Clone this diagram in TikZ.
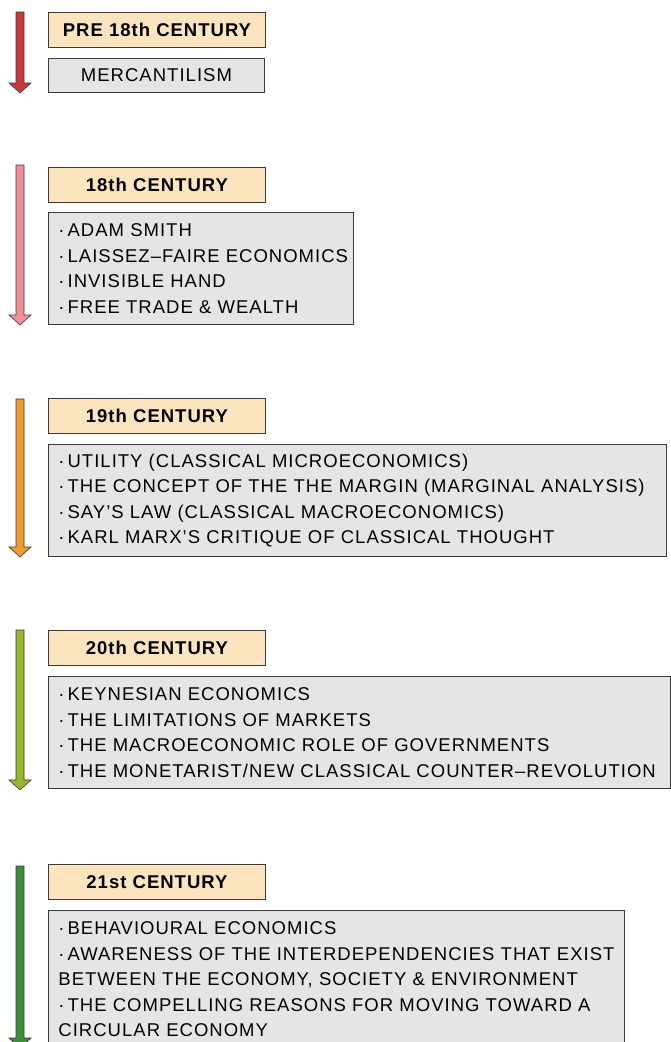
\documentclass[tikz,border=0pt]{standalone}
\usepackage{fontspec}
\setmainfont{Liberation Sans}[LetterSpace=5.5]
\usepackage{tikz}

\definecolor{headfill}{HTML}{FCE4BE}
\definecolor{boxfill}{HTML}{E5E5E5}
\definecolor{edge}{HTML}{3A3A3A}
\definecolor{arrA}{HTML}{C63A3B}
\definecolor{arrB}{HTML}{F08E98}
\definecolor{arrC}{HTML}{EE9C30}
\definecolor{arrD}{HTML}{9AB62C}
\definecolor{arrE}{HTML}{3F8C3B}

\newcommand{\bul}{\mbox{\textperiodcentered\hspace{3pt}}}
\newcommand{\nohyph}{\hyphenpenalty=10000 \exhyphenpenalty=10000\relax}

\begin{document}
\begin{tikzpicture}[x=1pt, y=-1pt,
	era/.style={draw=edge, line width=0.9pt, fill=headfill, anchor=north west, minimum width=217pt, minimum height=35pt, inner sep=0pt, font=\fontsize{18.5}{25.5}\selectfont\bfseries},
	info/.style={draw=edge, line width=0.9pt, fill=boxfill, anchor=north west, inner xsep=10pt, inner ysep=0pt, align=left, font=\fontsize{18.5}{25.5}\selectfont\nohyph}]
		\useasboundingbox (0,0) rectangle (671,1042);
		\begin{scope}
			\clip (0,0) rectangle (671,1042);

			% arrows
			\foreach \col/\top/\bot in {arrA/12/93, arrB/165/325, arrC/399/557, arrD/630/790, arrE/866/1048}
				\filldraw[fill=\col, draw=edge, line width=0.6pt] (16,\top) -- (24,\top) -- (24,\bot-10) -- (31,\bot-10) -- (20,\bot) -- (9,\bot-10) -- (16,\bot-10) -- cycle;

			\node[era] (pre) at (48,12) {PRE 18th CENTURY};
			\node[info, align=center, text width=196pt, minimum height=34pt] (merc) at (48,58) {MERCANTILISM};

			\node[era] (c18) at (48,167) {18th CENTURY};
			\node[info, text width=285pt, minimum height=112pt] (smith) at (48,212) {\bul ADAM SMITH\\ \mbox{\bul LAISSEZ--FAIRE ECONOMICS}\\ \bul INVISIBLE HAND\\ \bul FREE TRADE \& WEALTH};

			\node[era] (c19) at (48,398) {19th CENTURY};
			\node[info, text width=598pt, minimum height=112pt] (classic) at (48,444) {\bul UTILITY (CLASSICAL MICROECONOMICS)\\ \bul THE CONCEPT OF THE THE MARGIN (MARGINAL ANALYSIS)\\ \bul SAY’S LAW (CLASSICAL MACROECONOMICS)\\ \bul KARL MARX’S CRITIQUE OF CLASSICAL THOUGHT};

			\node[era] (c20) at (48,630) {20th CENTURY};
			\node[info, text width=602pt, minimum height=112pt] (keynes) at (48,676) {\bul KEYNESIAN ECONOMICS\\ \bul THE LIMITATIONS OF MARKETS\\ \bul THE MACROECONOMIC ROLE OF GOVERNMENTS\\ \bul THE MONETARIST/NEW CLASSICAL COUNTER--REVOLUTION};

			\node[era] (c21) at (48,864) {21st CENTURY};
			\node[info, text width=556pt, minimum height=138pt] (modern) at (48,910) {\bul BEHAVIOURAL ECONOMICS\\ \bul AWARENESS OF THE INTERDEPENDENCIES THAT EXIST\\ BETWEEN THE ECONOMY, SOCIETY \& ENVIRONMENT\\ \bul THE COMPELLING REASONS FOR MOVING TOWARD A\\ CIRCULAR ECONOMY};
		\end{scope}
		\end{tikzpicture}
\end{document}
